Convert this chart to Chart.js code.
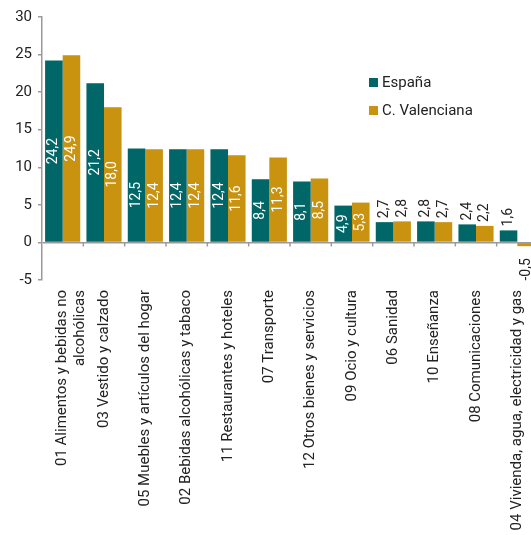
<!DOCTYPE html>
<html>
<head>
<meta charset="utf-8">
<script src="https://cdn.jsdelivr.net/npm/chart.js@4.4.0/dist/chart.umd.min.js"></script>
<style>
  html, body { margin: 0; padding: 0; background: #fff; overflow: hidden; }
  #wrap { position: relative; width: 531px; height: 535px; overflow: hidden; }
  #legend { position: absolute; left: 369px; top: 68px; font-family: Roboto, sans-serif; font-size: 15px; color: #222; }
  #legend div { height: 28px; display: flex; align-items: center; }
  #legend span.box { display: inline-block; width: 9px; height: 9px; margin-right: 4px; }
</style>
</head>
<body>
<div id="wrap">
  <canvas id="myChart" width="540" height="535"></canvas>
  <div id="legend"></div>
</div>
<script>
const categories = [
  ['01 Alimentos y bebidas no', 'alcohólicas'],
  '03 Vestido y calzado',
  '05 Muebles y artículos del hogar',
  '02 Bebidas alcohólicas y tabaco',
  '11 Restaurantes y hoteles',
  '07 Transporte',
  '12 Otros bienes y servicios',
  '09 Ocio y cultura',
  '06 Sanidad',
  '10 Enseñanza',
  '08 Comunicaciones',
  '04 Vivienda, agua, electricidad y gas'
];
const espana = [24.2, 21.2, 12.5, 12.4, 12.4, 8.4, 8.1, 4.9, 2.7, 2.8, 2.4, 1.6];
const valenciana = [24.9, 18.0, 12.4, 12.4, 11.6, 11.3, 8.5, 5.3, 2.8, 2.7, 2.2, -0.5];
const seriesNames = ['España', 'C. Valenciana'];
const seriesColors = ['#006667', '#C9920F'];
const yTicks = [-5, 0, 5, 10, 15, 20, 25, 30];

const ctx = document.getElementById('myChart');

// value labels, rotated, inside bars or just outside for small ones
const valueLabels = {
  id: 'valueLabels',
  afterDatasetsDraw(chart) {
    const c = chart.ctx;
    c.save();
    c.font = '14px Roboto, sans-serif';
    c.textBaseline = 'middle';
    chart.data.datasets.forEach(function(ds, di) {
      chart.getDatasetMeta(di).data.forEach(function(bar, i) {
        const v = ds.data[i];
        const txt = v.toFixed(1).replace('.', ',');
        c.save();
        if (Math.abs(v) >= 4) {
          c.translate(bar.x, (bar.y + bar.base) / 2);
          c.rotate(-Math.PI / 2);
          c.fillStyle = '#fff';
          c.textAlign = 'center';
        } else if (v >= 0) {
          c.translate(bar.x, bar.y - 4);
          c.rotate(-Math.PI / 2);
          c.fillStyle = '#222';
          c.textAlign = 'left';
        } else {
          c.translate(bar.x, bar.y + 12);
          c.rotate(-Math.PI / 2);
          c.fillStyle = '#222';
          c.textAlign = 'right';
        }
        c.fillText(txt, 0, 0);
        c.restore();
      });
    });
    c.restore();
  }
};

// small tick marks on the zero line between categories
const zeroTicks = {
  id: 'zeroTicks',
  afterDatasetsDraw(chart) {
    const x = chart.scales.x, y = chart.scales.y;
    const y0 = y.getPixelForValue(0);
    const c = chart.ctx;
    c.save();
    c.strokeStyle = '#9a9a9a';
    c.lineWidth = 1.5;
    const n = categories.length;
    for (let i = 1; i <= n; i++) {
      const px = i < n ? (x.getPixelForValue(i - 1) + x.getPixelForValue(i)) / 2
                       : x.getPixelForValue(n - 1) + (x.getPixelForValue(1) - x.getPixelForValue(0)) / 2;
      c.beginPath();
      c.moveTo(px, y0);
      c.lineTo(px, y0 + 4);
      c.stroke();
    }
    c.restore();
  }
};

new Chart(ctx, {
  type: 'bar',
  data: {
    labels: categories,
    datasets: [{
      label: seriesNames[0],
      data: espana,
      backgroundColor: seriesColors[0],
      categoryPercentage: 0.85,
      barPercentage: 1
    }, {
      label: seriesNames[1],
      data: valenciana,
      backgroundColor: seriesColors[1],
      categoryPercentage: 0.85,
      barPercentage: 1
    }]
  },
  options: {
    responsive: false,
    animation: false,
    devicePixelRatio: 1,
    layout: { padding: { top: 17, right: 2, left: 0, bottom: 0 } },
    plugins: {
      legend: { display: false },
      tooltip: { enabled: false }
    },
    scales: {
      x: {
        grid: { display: false },
        border: { display: false },
        ticks: {
          minRotation: 90,
          maxRotation: 90,
          autoSkip: false,
          padding: 2,
          color: '#222',
          font: { family: 'Roboto', size: 15 }
        },
        afterFit: function(scale) {
          scale.height = 255;
          scale.paddingLeft = 0;
          scale.paddingRight = 0;
        }
      },
      y: {
        min: -5,
        max: 30,
        afterBuildTicks: function(scale) {
          scale.ticks = yTicks.map(function(v) { return { value: v }; });
        },
        grid: {
          drawOnChartArea: true,
          color: function(c) { return c.tick && c.tick.value === 0 ? '#9a9a9a' : 'rgba(0,0,0,0)'; },
          lineWidth: 1.5,
          tickColor: '#9a9a9a',
          tickLength: 4
        },
        border: { display: true, color: '#9a9a9a', width: 1.5 },
        ticks: {
          padding: 6,
          color: '#222',
          font: { family: 'Roboto', size: 15 }
        },
        afterFit: function(scale) {
          scale.width = 42;
          scale.paddingTop = 0;
          scale.paddingBottom = 0;
        }
      }
    }
  },
  plugins: [valueLabels, zeroTicks]
});

const legend = document.getElementById('legend');
seriesNames.forEach(function(name, i) {
  const row = document.createElement('div');
  row.innerHTML = '<span class="box" style="background:' + seriesColors[i] + '"></span>' + name;
  legend.appendChild(row);
});
</script>
</body>
</html>
